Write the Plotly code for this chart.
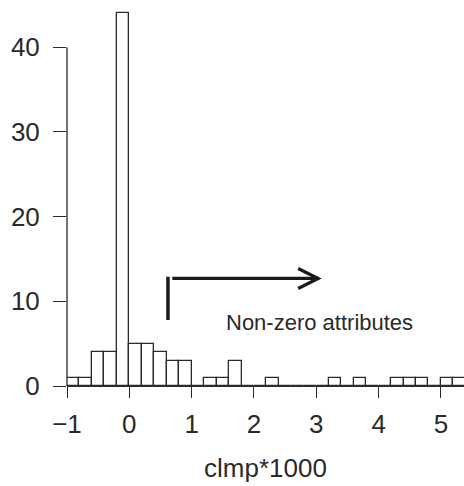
import plotly.graph_objects as go

# Histogram bins (left edges, width 0.2) and counts
bin_left = [-1.0, -0.8, -0.6, -0.4, -0.2, 0.0, 0.2, 0.4, 0.6, 0.8, 1.0, 1.2, 1.4, 1.6,
            1.8, 2.0, 2.2, 2.4, 2.6, 2.8, 3.0, 3.2, 3.4, 3.6, 3.8, 4.0, 4.2, 4.4, 4.6,
            4.8, 5.0, 5.2]
counts = [1, 1, 4, 4, 44, 5, 5, 4, 3, 3, 0, 1, 1, 3,
          0, 0, 1, 0, 0, 0, 0, 1, 0, 1, 0, 0, 1, 1, 1,
          0, 1, 1]
bin_width = 0.2
x_ticks = [-1, 0, 1, 2, 3, 4, 5]
y_ticks = [0, 10, 20, 30, 40]
x_title = "clmp*1000"
note_text = "Non-zero attributes"

centers = [b + bin_width / 2 for b in bin_left]
INK = "#2a2a2a"
FONT = "Liberation Sans, Arial, sans-serif"

fig = go.Figure()
fig.add_trace(go.Bar(
    x=centers, y=counts, width=bin_width,
    marker=dict(color="white", line=dict(color=INK, width=1.3)),
    showlegend=False, hoverinfo="skip",
))

fig.update_layout(
    width=464, height=486,
    margin=dict(l=67, r=0, t=10, b=100),
    plot_bgcolor="white", paper_bgcolor="white",
    font=dict(family=FONT, color=INK, size=26),
    bargap=0,
    xaxis=dict(
        range=[-1, 5.37], tickvals=x_ticks, ticktext=[f"{v}".replace("-", "\u2212") for v in x_ticks],
        ticks="outside", ticklen=11, tickwidth=1.3, tickcolor=INK,
        showline=True, linecolor=INK, linewidth=1.3,
        showgrid=False, zeroline=False,
        tickfont=dict(size=26, color=INK, family=FONT),
        ticklabelstandoff=4,
        title=dict(text=x_title, font=dict(size=26, color=INK, family=FONT), standoff=20),
    ),
    yaxis=dict(
        range=[0, 44.4], tickvals=y_ticks,
        ticks="outside", ticklen=13, tickwidth=1.3, tickcolor=INK,
        showline=False, showgrid=False, zeroline=False,
        tickfont=dict(size=26, color=INK, family=FONT),
        ticklabelstandoff=8,
    ),
)

# R-style y axis line spanning only the tick range
fig.add_shape(type="line", xref="paper", yref="y", x0=0, x1=0, y0=0, y1=40,
              line=dict(color=INK, width=1.3))

# Arrow marker: vertical bar and horizontal arrow
fig.add_shape(type="line", xref="x", yref="y", x0=0.62, x1=0.62, y0=7.8, y1=12.9,
              line=dict(color="#1a1a1a", width=3.5))
fig.add_shape(type="line", xref="x", yref="y", x0=0.69, x1=3.03, y0=12.7, y1=12.7,
              line=dict(color="#1a1a1a", width=3.2))
fig.add_shape(type="path", xref="x", yref="y", xsizemode="pixel", ysizemode="pixel",
              xanchor=3.03, yanchor=12.7, path="M-20,10 L0,0 L-20,-10",
              line=dict(color="#1a1a1a", width=3.2))

fig.add_annotation(x=1.52, y=7.5, xref="x", yref="y", text=note_text, showarrow=False,
                   xanchor="left", yanchor="middle",
                   font=dict(size=22, color=INK, family=FONT))

fig.write_html("out.html")
